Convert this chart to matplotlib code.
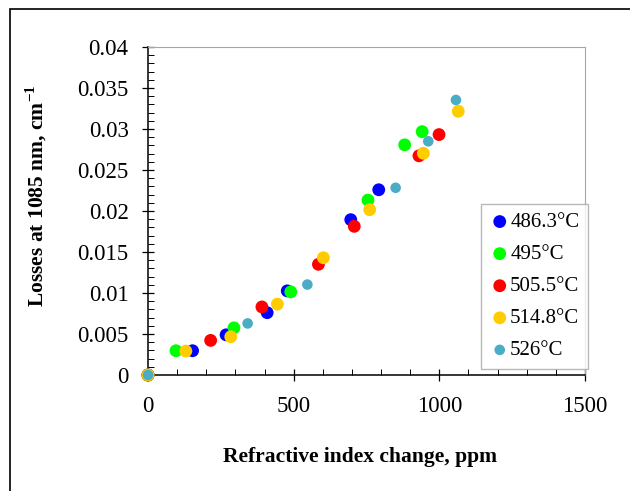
import matplotlib
matplotlib.use('Agg')
import matplotlib.pyplot as plt
import matplotlib.ticker as ticker
from matplotlib.patches import Rectangle

plt.rcParams['font.family'] = ['Liberation Serif', 'DejaVu Serif']
plt.rcParams['mathtext.fontset'] = 'custom'
plt.rcParams['mathtext.rm'] = 'Liberation Serif'
plt.rcParams['mathtext.bf'] = 'Liberation Serif:bold'

# data
x_486 = [0, 153, 268, 409, 478, 696, 792]
y_486 = [0, 0.00296, 0.0049, 0.0076, 0.01026, 0.01894, 0.02259]
x_495 = [0, 96, 295, 490, 755, 881, 941]
y_495 = [0, 0.00296, 0.00575, 0.01014, 0.02133, 0.02807, 0.02968]
x_505 = [0, 215, 391, 585, 708, 930, 999]
y_505 = [0, 0.00422, 0.0083, 0.0135, 0.01813, 0.02673, 0.02932]
x_514 = [0, 130, 284, 444, 602, 761, 945, 1065]
y_514 = [0, 0.00292, 0.00466, 0.00864, 0.0143, 0.02016, 0.02704, 0.03216]
x_526 = [0, 342, 547, 850, 962, 1057]
y_526 = [0, 0.00629, 0.01103, 0.02283, 0.0285, 0.03354]

series = [
    (x_486, y_486, '486.3°C', '#0000ff', 85),
    (x_495, y_495, '495°C', '#00ff00', 85),
    (x_505, y_505, '505.5°C', '#ff0000', 85),
    (x_514, y_514, '514.8°C', '#ffcc00', 85),
    (x_526, y_526, '526°C', '#4bacc6', 58),
]

fig = plt.figure(figsize=(6.3, 4.91), dpi=100)
fig.patches.append(Rectangle((10/630, -0.1), 1.2, 1 - 9/491 + 0.1, transform=fig.transFigure,
                             fill=False, edgecolor='black', linewidth=1.2))
ax = fig.add_axes([148/630, 1 - 375/491, 437/630, 328/491])

for xs, ys, lab, col, s in series:
    ax.scatter(xs, ys, s=s, color=col, label=lab, edgecolors='none', zorder=3, clip_on=False)

ax.set_xlim(0, 1500)
ax.set_ylim(0, 0.04)
ax.xaxis.set_major_locator(ticker.MultipleLocator(500))
ax.xaxis.set_minor_locator(ticker.MultipleLocator(100))
ax.yaxis.set_major_locator(ticker.MultipleLocator(0.005))
ax.yaxis.set_minor_locator(ticker.MultipleLocator(0.001))
ax.yaxis.set_major_formatter(ticker.FuncFormatter(lambda v, p: '%g' % round(v, 4)))
ax.tick_params(which='major', direction='inout', length=8, width=0.9, labelsize=16.5)
ax.tick_params(which='minor', direction='in', length=4, width=0.7)
ax.tick_params(axis='x', pad=11)
ax.tick_params(axis='y', pad=10)
ax.tick_params(top=False, right=False, which='both')

for sp in ['top', 'right']:
    ax.spines[sp].set_color('#a6a6a6')
for sp in ['left', 'bottom']:
    ax.spines[sp].set_color('black')
    ax.spines[sp].set_linewidth(1.1)

ax.set_xlabel('Refractive index change, ppm', fontsize=15.5, fontweight='bold')
ax.set_ylabel(r'Losses at 1085 nm, cm$^{\mathbf{-1}}$', fontsize=15.5, fontweight='bold')
ax.xaxis.set_label_coords((360 - 148) / 437, -(447 - 375) / 328)
ax.yaxis.set_label_coords(-(148 - 49) / 437, (375 - 196) / 328)

leg = ax.legend(loc='upper left', bbox_to_anchor=(0.762, 0.521), borderaxespad=0,
                fontsize=15, frameon=True, fancybox=False, handletextpad=0.0,
                handlelength=1.0, labelspacing=0.6, borderpad=0.4, scatterpoints=1)
leg.get_frame().set_edgecolor('#a6a6a6')
leg.get_frame().set_linewidth(1.0)

fig.savefig('out.png', dpi=100)
